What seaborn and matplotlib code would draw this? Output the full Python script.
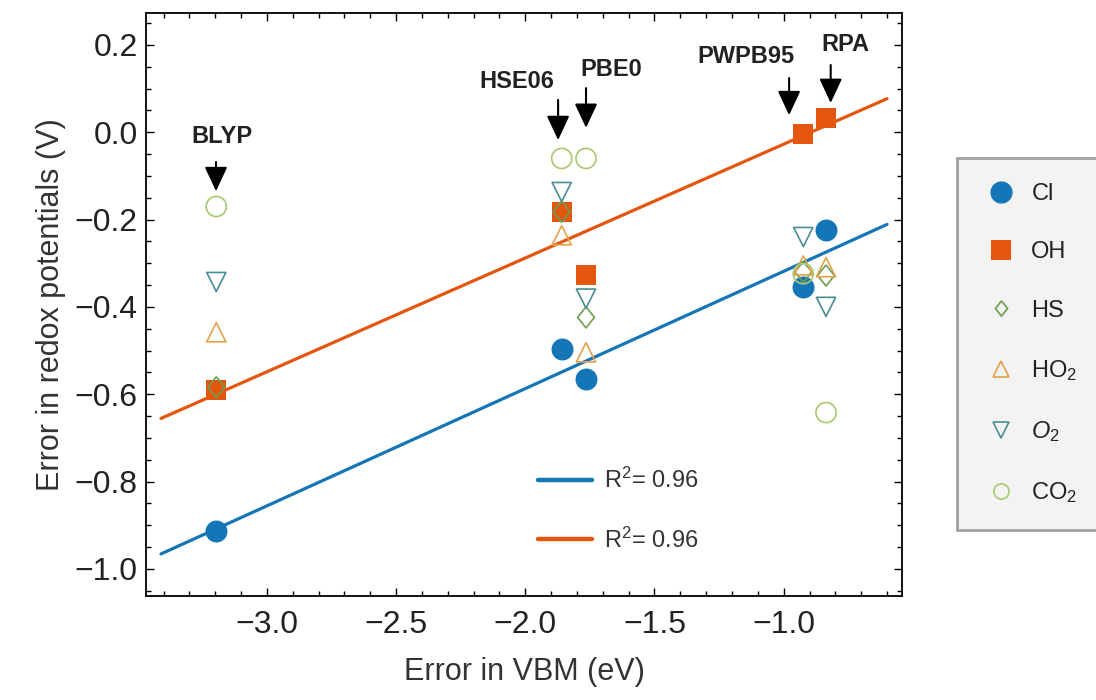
import numpy as np
import pandas as pd
import matplotlib.pyplot as plt
import seaborn as sns
from matplotlib.lines import Line2D
from matplotlib.ticker import MultipleLocator

# Funcionales (columnas) y error en el VBM
functionals = ['BLYP', 'HSE06', 'PBE0', 'PWPB95', 'RPA']
vbm_error = [-3.196, -1.859, -1.765, -0.924, -0.836]

# Error en potenciales redox por especie
species_labels = ['Cl', 'OH', 'HS', 'HO$_2$', '$O_2$', 'CO$_2$']
redox_cl = [-0.913, -0.496, -0.565, -0.355, -0.225]
redox_oh = [-0.590, -0.182, -0.328, -0.003, 0.033]
redox_hs = [-0.584, -0.182, -0.424, -0.320, -0.328]
redox_ho2 = [-0.458, -0.236, -0.504, -0.305, -0.309]
redox_o2 = [-0.343, -0.137, -0.381, -0.240, -0.400]
redox_co2 = [-0.170, -0.060, -0.060, -0.324, -0.642]

r2_labels = ['R$^2$= 0.96', 'R$^2$= 0.96']

sns.set_style('ticks')
plt.rcParams['font.family'] = ['Liberation Sans', 'DejaVu Sans']
plt.rcParams['mathtext.fontset'] = 'custom'
plt.rcParams['mathtext.rm'] = 'Liberation Sans'
plt.rcParams['mathtext.it'] = 'Liberation Sans:italic'

fig = plt.figure(figsize=(10.96, 7), dpi=100)
ax = fig.add_axes([146/1096, 1 - 596/700, (902-146)/1096, (596-13)/700])

blue = '#1476b6'
red = '#e4550e'
colors = [blue, red, '#6c9e4e', '#e5a24a', '#4a8e95', '#a9c86e']
diamond = [(0, 1), (0.8, 0), (0, -1), (-0.8, 0), (0, 1)]
markers = ['o', 's', diamond, '^', 'v', 'o']
sizes = [250, 190, 230, 190, 190, 210]
filled = [True, True, False, False, False, False]
series = [redox_cl, redox_oh, redox_hs, redox_ho2, redox_o2, redox_co2]

# Rectas de regresión (Cl y OH)
x_fit = np.linspace(-3.41, -0.6, 50)
line_handles = []
for vals, c, lab in zip([redox_cl, redox_oh], [blue, red], r2_labels):
    coef = np.polyfit(vbm_error, vals, 1)
    sns.lineplot(x=x_fit, y=np.polyval(coef, x_fit), color=c, lw=2.3,
                 ax=ax, zorder=2, legend=False)
    line_handles.append(Line2D([], [], color=c, lw=3.2, label=lab))

# Puntos
for vals, c, m, s, f in zip(series, colors, markers, sizes, filled):
    df = pd.DataFrame({'vbm': vbm_error, 'redox': vals})
    if f:
        sns.scatterplot(data=df, x='vbm', y='redox', marker=m, s=s, color=c,
                        edgecolor=c, linewidth=0, ax=ax, zorder=3, legend=False)
    else:
        sns.scatterplot(data=df, x='vbm', y='redox', marker=m, s=s, color=c,
                        facecolor='none', edgecolor=c, linewidth=1.2, ax=ax,
                        zorder=4, legend=False)

# Flechas y nombres de funcionales
label_xy = [(-3.174, -0.009), (-2.032, 0.115), (-1.668, 0.143), (-1.146, 0.173), (-0.762, 0.200)]
arrow_x = [-3.197, -1.873, -1.765, -0.979, -0.818]
arrow_tail = [-0.068, 0.074, 0.101, 0.124, 0.154]
arrow_tip = [-0.135, -0.018, 0.010, 0.039, 0.067]
for name, (tx, ty), ax_x, t0, t1 in zip(functionals, label_xy, arrow_x, arrow_tail, arrow_tip):
    ax.text(tx, ty, name, ha='center', va='center', fontsize=17,
            fontweight='bold', color='#222222')
    ax.annotate('', xy=(ax_x, t1), xytext=(ax_x, t0),
                arrowprops=dict(arrowstyle='-|>,head_length=0.75,head_width=0.35',
                                color='black', lw=1.5, mutation_scale=20,
                                shrinkA=0, shrinkB=0))

ax.set_xlim(-3.468, -0.542)
ax.set_ylim(-1.062, 0.273)
ax.xaxis.set_major_locator(MultipleLocator(0.5))
ax.xaxis.set_minor_locator(MultipleLocator(0.1))
ax.yaxis.set_major_locator(MultipleLocator(0.2))
ax.yaxis.set_minor_locator(MultipleLocator(0.05))
ax.tick_params(which='both', direction='in', top=True, right=True,
               width=1, color='black', labelsize=23, labelcolor='#222222')
ax.tick_params(which='major', length=6)
ax.tick_params(which='minor', length=3.5)
ax.tick_params(axis='x', pad=10)
ax.tick_params(axis='y', pad=6)
for sp in ax.spines.values():
    sp.set_visible(True)
    sp.set_linewidth(1.3)
    sp.set_color('black')

ax.set_xlabel('Error in VBM (eV)', fontsize=22, color='#333333', labelpad=12)
ax.set_ylabel('Error in redox potentials (V)', fontsize=22, color='#333333', labelpad=6)

# Leyenda R²
leg1 = ax.legend(handles=line_handles, loc='upper left',
                 bbox_to_anchor=(538/1096, 1 - 468/700),
                 bbox_transform=fig.transFigure, frameon=False, fontsize=17,
                 handlelength=2.3, handletextpad=0.5, labelspacing=1.45,
                 borderpad=0, borderaxespad=0)
for t in leg1.get_texts():
    t.set_color('#333333')

# Leyenda de especies
marker_handles = []
leg_sizes = [16, 14, 11, 11, 11, 11]
for lab, c, m, ms, f in zip(species_labels, colors, markers, leg_sizes, filled):
    marker_handles.append(Line2D([], [], ls='none', marker=m, markersize=ms,
                                 markerfacecolor=c if f else 'none',
                                 markeredgecolor=c, markeredgewidth=0 if f else 1.2,
                                 label=lab))
leg2 = fig.legend(handles=marker_handles, loc='upper left',
                  bbox_to_anchor=(957/1096, 1 - 158/700), fontsize=17,
                  handlelength=1.6, handletextpad=0.5, labelspacing=1.54,
                  borderpad=1.05, borderaxespad=0, fancybox=False,
                  facecolor='#f3f3f3', edgecolor='#a0a0a0', framealpha=1)
leg2.get_frame().set_linewidth(2)
for t in leg2.get_texts():
    t.set_color('#222222')

fig.savefig('out.png', dpi=100, facecolor='white')
